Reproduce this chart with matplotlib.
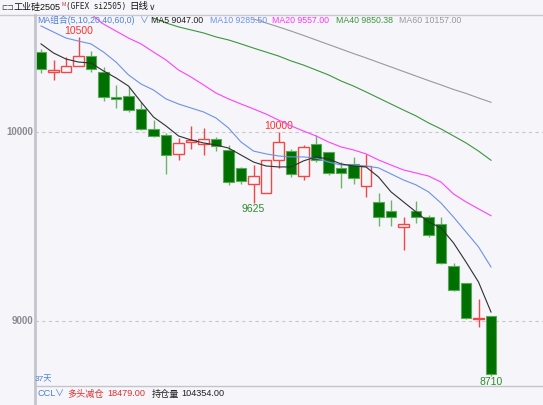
import numpy as np
import matplotlib
matplotlib.use("Agg")
import matplotlib.pyplot as plt
from matplotlib.lines import Line2D

plt.rcParams['font.family'] = ['Liberation Sans', 'Noto Sans CJK SC', 'DejaVu Sans']

# daily candles, 37 days
opens = [10423, 10317, 10317, 10349, 10402, 10317, 10185, 10190, 10122, 10016,
         9984, 9884, 9947, 9937, 9963, 9905, 9810, 9725, 9677, 9852,
         9900, 9767, 9937, 9894, 9810, 9831, 9714, 9630, 9582, 9497,
         9582, 9550, 9513, 9291, 9201, 9011, 9026]
closes = [10333, 10328, 10349, 10402, 10333, 10185, 10175, 10116, 10016, 9979,
          9878, 9942, 9958, 9963, 9926, 9735, 9741, 9767, 9852, 9947,
          9778, 9921, 9852, 9783, 9783, 9757, 9820, 9550, 9550, 9513,
          9550, 9455, 9307, 9164, 9016, 9016, 8720]
highs = [10439, 10381, 10397, 10500, 10429, 10344, 10249, 10238, 10159, 10063,
         9995, 9968, 10032, 10021, 9974, 9931, 9815, 9825, 9852, 10000,
         9910, 9931, 9984, 9894, 9841, 9868, 9884, 9677, 9640, 9550,
         9635, 9560, 9550, 9307, 9201, 9116, 9026]
lows = [10312, 10275, 10317, 10349, 10317, 10164, 10127, 10106, 10011, 9974,
        9778, 9852, 9910, 9878, 9899, 9720, 9725, 9625, 9677, 9810,
        9762, 9746, 9841, 9772, 9704, 9725, 9656, 9503, 9503, 9376,
        9519, 9444, 9302, 9159, 9010, 8968, 8710]

nan = float('nan')
ma5 = [10466, 10418, 10386, 10370, 10365, 10323, 10286, 10243, 10159, 10079,
       10032, 9979, 9958, 9942, 9931, 9915, 9878, 9841, 9820, 9815,
       9815, 9847, 9868, 9857, 9831, 9820, 9815, 9762, 9683, 9630,
       9577, 9524, 9492, 9413, 9312, 9206, 9047]
ma10 = [10561, 10529, 10497, 10481, 10466, 10423, 10370, 10302, 10254, 10222,
        10175, 10148, 10127, 10106, 10074, 10021, 9947, 9899, 9884, 9873,
        9868, 9868, 9862, 9841, 9825, 9825, 9820, 9810, 9778, 9746,
        9720, 9683, 9624, 9550, 9471, 9392, 9285.5]
ma20 = [nan, nan, nan, nan, 10624, 10571, 10534, 10497, 10466, 10423,
        10381, 10328, 10291, 10249, 10206, 10175, 10148, 10122, 10095, 10063,
        10032, 10005, 9979, 9947, 9921, 9905, 9884, 9852, 9825, 9799,
        9783, 9767, 9735, 9672, 9630, 9593, 9557]
ma40 = [nan] * 9 + [10603, 10577, 10556, 10540, 10524, 10503, 10487, 10466, 10444,
                    10423, 10402, 10376, 10354, 10328, 10302, 10270, 10243, 10212,
                    10180, 10148, 10116, 10085, 10048, 10016, 9979, 9942, 9899, 9850.38]
ma60 = [nan] * 17 + [10598, 10577, 10556, 10534, 10511, 10487, 10463, 10439, 10415,
                     10392, 10368, 10344, 10320, 10296, 10272, 10249, 10225, 10204,
                     10180, 10157]

yticks = [9000, 10000]
marks = [(3, 10500, 'high'), (19, 10000, 'high'), (17, 9625, 'low'), (36, 8710, 'low')]

BG = '#f5f5fa'
W, H = 543, 405


def fx(px):
    return px / W


def fy(py):
    return 1 - py / H


fig = plt.figure(figsize=(5.43, 4.05), dpi=100, facecolor=BG)
ax = fig.add_axes([fx(35), fy(385), fx(508), 370 / H], facecolor=BG)
ax.set_xlim(-0.48, 40.16)
ax.set_ylim(8661, 10619)
for s in ax.spines.values():
    s.set_visible(False)
ax.set_xticks([])
ax.set_yticks([])

for t in yticks:
    ax.axhline(t, color='#c8c8cc', lw=0.8, ls=(0, (3, 3)), zorder=1)
    ax.text(-0.62, t, str(t), ha='right', va='center', fontsize=7,
            color='#8a8a92', fontweight='bold', clip_on=False)

x = np.arange(len(opens))
width = 0.84
for i in x:
    o, c, h, l = opens[i], closes[i], highs[i], lows[i]
    if c >= o:
        ax.vlines(i, l, h, color='#f04848', lw=1.0, zorder=2)
        hgt = max(c - o, 6)
        ax.bar(i, hgt, bottom=o, width=width, facecolor=BG, edgecolor='#f04848',
               lw=1.0, zorder=3)
    else:
        ax.vlines(i, l, h, color='#6cb46c', lw=1.0, zorder=2)
        ax.bar(i, o - c, bottom=c, width=width, facecolor='#007000',
               edgecolor='#5aa85a', lw=0.8, zorder=3)

ax.plot(x, ma60, color='#9a9a9a', lw=0.8, zorder=4)
ax.plot(x, ma40, color='#3c963c', lw=0.8, zorder=4)
ax.plot(x, ma20, color='#ff40ff', lw=0.8, zorder=4)
ax.plot(x, ma10, color='#6e92e6', lw=0.8, zorder=4)
ax.plot(x, ma5, color='#303030', lw=0.8, zorder=4)

for i, v, kind in marks:
    if kind == 'high':
        ax.annotate(str(v), (i, v), xytext=(0, 1), textcoords='offset points',
                    ha='center', va='bottom', fontsize=7.5, color='#ff3030')
    else:
        ax.annotate(str(v), (i, v), xytext=(0, -1), textcoords='offset points',
                    ha='center', va='top', fontsize=7.5, color='#2e8b2e',
                    annotation_clip=False)

# frame lines
fig.add_artist(Line2D([0, 1], [fy(15), fy(15)], color='#c8c8d0', lw=1.0))
fig.add_artist(Line2D([fx(35), fx(35)], [fy(15), 0], color='#c4c4cc', lw=2.0))
fig.add_artist(Line2D([fx(35), 1], [fy(386), fy(386)], color='#c4c4cc', lw=1.0))

# title bar
fig.text(fx(1), fy(7), '⊏⊐', fontsize=5.5, va='center', color='#444444', family='DejaVu Sans')
fig.text(fx(14), fy(7), '工业硅2505', fontsize=6.5, va='center', color='#111111')
fig.text(fx(61.5), fy(4.5), 'M', fontsize=3.8, va='center', color='#e03030')
fig.text(fx(66), fy(7), '(GFEX si2505)', fontsize=5.6, va='center', color='#222222',
         family='DejaVu Sans Mono')
fig.text(fx(129), fy(7), '日线', fontsize=6.8, va='center', color='#111111')
fig.text(fx(149), fy(7), '∨', fontsize=6.5, va='center', color='#333333', family='DejaVu Sans')

# MA legend row
legend_items = [
    (37, 'MA组合(5,10,20,40,60,0)', '#4f7fd8'),
    (139, '∨', '#4f7fd8'),
    (151, 'MA5 9047.00', '#222222'),
    (210, 'MA10 9285.50', '#6e92e6'),
    (272, 'MA20 9557.00', '#ff33ff'),
    (336, 'MA40 9850.38', '#3c963c'),
    (399, 'MA60 10157.00', '#9a9a9a'),
]
for px, txt, col in legend_items:
    fig.text(fx(px), fy(20.5), txt, fontsize=6.3, va='center', color=col)

# bottom rows
fig.text(fx(35), fy(380), '37天', fontsize=6, va='center', color='#4f7fd8')
bottom_items = [
    (38, 'CCL', '#4f7fd8'),
    (55, '∨', '#4f7fd8'),
    (67, '多头减仓', '#e03030'),
    (107, '18479.00', '#e03030'),
    (152, '持仓量', '#222222'),
    (181, '104354.00', '#222222'),
]
for px, txt, col in bottom_items:
    fig.text(fx(px), fy(394), txt, fontsize=6.6, va='center', color=col)

fig.savefig('out.png', dpi=100, facecolor=BG)
